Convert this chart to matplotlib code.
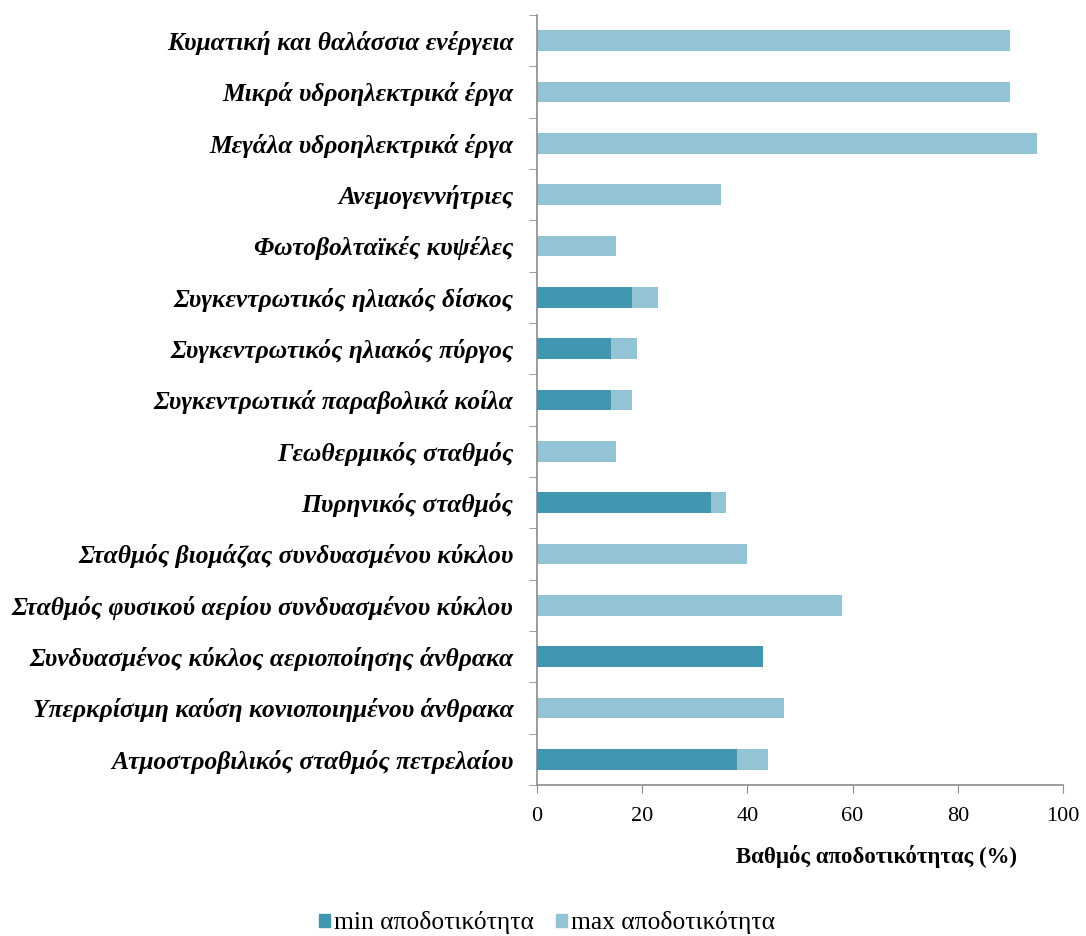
import numpy as np
import matplotlib
matplotlib.use("Agg")
import matplotlib.pyplot as plt
from matplotlib.patches import Patch

categories = [
    "Κυματική και θαλάσσια ενέργεια",
    "Μικρά υδροηλεκτρικά έργα",
    "Μεγάλα υδροηλεκτρικά έργα",
    "Ανεμογεννήτριες",
    "Φωτοβολταϊκές κυψέλες",
    "Συγκεντρωτικός ηλιακός δίσκος",
    "Συγκεντρωτικός ηλιακός πύργος",
    "Συγκεντρωτικά παραβολικά κοίλα",
    "Γεωθερμικός σταθμός",
    "Πυρηνικός σταθμός",
    "Σταθμός βιομάζας συνδυασμένου κύκλου",
    "Σταθμός φυσικού αερίου συνδυασμένου κύκλου",
    "Συνδυασμένος κύκλος αεριοποίησης άνθρακα",
    "Υπερκρίσιμη καύση κονιοποιημένου άνθρακα",
    "Ατμοστροβιλικός σταθμός πετρελαίου",
]
min_eff = [0, 0, 0, 0, 0, 18, 14, 14, 0, 33, 0, 0, 43, 0, 38]
max_eff = [90, 90, 95, 35, 15, 23, 19, 18, 15, 36, 40, 58, 0, 47, 44]
x_ticks = [0, 20, 40, 60, 80, 100]

dark = "#4197b0"
light = "#93c4d6"
axis_grey = "#8c8c8c"
serif = ["Liberation Serif", "DejaVu Serif"]

fig = plt.figure(figsize=(10.86, 9.36), dpi=100)
ax = fig.add_axes([537 / 1086, 1 - 785 / 936, 526 / 1086, 770 / 936])

y = np.arange(len(categories))
ax.barh(y, max_eff, height=0.4, color=light, zorder=2)
ax.barh(y, min_eff, height=0.4, color=dark, zorder=3)

ax.set_ylim(len(categories) - 0.5, -0.5)
ax.set_xlim(0, 100)
ax.set_xticks(x_ticks)
ax.set_xticklabels([str(t) for t in x_ticks], fontfamily=serif, fontsize=16)
ax.set_yticks(y)
ax.set_yticklabels(categories, fontfamily=serif, fontsize=18.4,
                   fontweight="bold", fontstyle="italic")
ax.set_yticks(np.arange(len(categories) + 1) - 0.5, minor=True)
ax.tick_params(axis="y", which="major", length=0, pad=17)
ax.tick_params(axis="y", which="minor", length=6, color=axis_grey, direction="out")
ax.tick_params(axis="x", which="major", length=6, color=axis_grey, direction="out", pad=10)

for s in ["top", "right"]:
    ax.spines[s].set_visible(False)
for s in ["left", "bottom"]:
    ax.spines[s].set_color(axis_grey)
    ax.spines[s].set_linewidth(1.2)

ax.set_xlabel("Βαθμός αποδοτικότητας (%)", fontfamily=serif, fontsize=16.5,
              fontweight="bold")
ax.xaxis.set_label_coords(0.645, -0.078)

handles = [Patch(color=dark, label="min αποδοτικότητα"),
           Patch(color=light, label="max αποδοτικότητα")]
fig.legend(handles=handles, loc="center", bbox_to_anchor=(547 / 1086, 1 - 923 / 936),
           ncol=2, frameon=False, prop={"family": serif, "size": 18.4},
           handlelength=0.45, handleheight=0.45, handletextpad=0.15, columnspacing=0.85)

fig.savefig("out.png", dpi=100)
